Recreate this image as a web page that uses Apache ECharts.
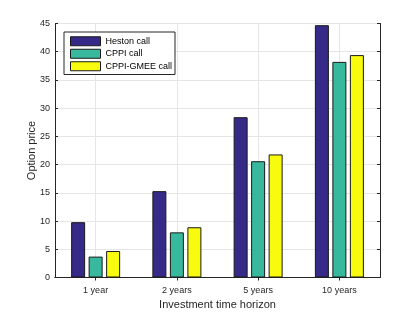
<!DOCTYPE html>
<html><head><meta charset="utf-8">
<script src="https://cdn.jsdelivr.net/npm/echarts@6/dist/echarts.min.js"></script>
<style>html,body{margin:0;padding:0;background:#fff}#c{width:420px;height:315px}</style>
</head><body><div id="c"></div>
<script>
const categories = ['1 year', '2 years', '5 years', '10 years'];
const hestonCall = [9.8, 15.3, 28.4, 44.7];
const cppiCall = [3.7, 8.0, 20.6, 38.2];
const cppiGmeeCall = [4.7, 8.9, 21.8, 39.4];
const yTicks = [0, 5, 10, 15, 20, 25, 30, 35, 40, 45];

const font = 'Liberation Sans, Arial, sans-serif';
const txt = '#262626';
const chart = echarts.init(document.getElementById('c'));
const barStyle = c => ({ color: c, borderColor: '#1a1a1a', borderWidth: 1 });
chart.setOption({
  animation: false,
  grid: { left: 55, right: 40, top: 23.5, bottom: 35 },
  legend: {
    orient: 'vertical', left: 64, top: 32, itemWidth: 30, itemHeight: 9, itemGap: 2,
    icon: 'rect',
    padding: [4, 3, 3, 6], borderColor: '#262626', borderWidth: 1, backgroundColor: '#fff',
    textStyle: { fontFamily: font, fontSize: 9, color: '#000', lineHeight: 10.5 },
    itemStyle: { borderColor: '#1a1a1a', borderWidth: 1 },
    data: ['Heston call', 'CPPI call', 'CPPI-GMEE call']
  },
  xAxis: [{
    type: 'category', data: categories, position: 'bottom',
    name: 'Investment time horizon', nameLocation: 'middle', nameGap: 21.5, nameMoveOverlap: false,
    nameTextStyle: { fontFamily: font, fontSize: 11, color: txt },
    axisLine: { lineStyle: { color: '#262626' } },
    axisTick: { show: true, inside: true, alignWithLabel: true, length: 3, lineStyle: { color: '#262626' } },
    axisLabel: { fontFamily: font, fontSize: 9, color: txt, margin: 9 },
    splitLine: { show: true, alignWithLabel: true, lineStyle: { color: '#e6e6e6' } }
  }, {
    type: 'category', data: categories, position: 'top',
    axisLine: { lineStyle: { color: '#262626' } },
    axisTick: { show: true, inside: true, alignWithLabel: true, length: 3, lineStyle: { color: '#262626' } },
    axisLabel: { show: false }, splitLine: { show: false }
  }],
  yAxis: [{
    type: 'value', min: yTicks[0], max: yTicks[yTicks.length - 1], interval: 5,
    name: 'Option price', nameLocation: 'middle', nameGap: 18, nameMoveOverlap: false,
    nameTextStyle: { fontFamily: font, fontSize: 11, color: txt },
    axisLine: { show: true, lineStyle: { color: '#262626' } },
    axisTick: { show: true, inside: true, length: 3, lineStyle: { color: '#262626' } },
    axisLabel: { fontFamily: font, fontSize: 9, color: txt, margin: 5 },
    splitLine: { show: true, lineStyle: { color: '#e6e6e6' } }
  }, {
    type: 'value', min: yTicks[0], max: yTicks[yTicks.length - 1], interval: 5, position: 'right',
    axisLine: { show: true, lineStyle: { color: '#262626' } },
    axisTick: { show: true, inside: true, length: 3, lineStyle: { color: '#262626' } },
    axisLabel: { show: false }, splitLine: { show: false }
  }],
  series: [
    { name: 'Heston call', type: 'bar', data: hestonCall, barWidth: 14, barGap: '25%', itemStyle: barStyle('#352a87') },
    { name: 'CPPI call', type: 'bar', data: cppiCall, barWidth: 14, barGap: '25%', itemStyle: barStyle('#38b99e') },
    { name: 'CPPI-GMEE call', type: 'bar', data: cppiGmeeCall, barWidth: 14, barGap: '25%', itemStyle: barStyle('#f9fb0e') }
  ]
});
</script></body></html>
